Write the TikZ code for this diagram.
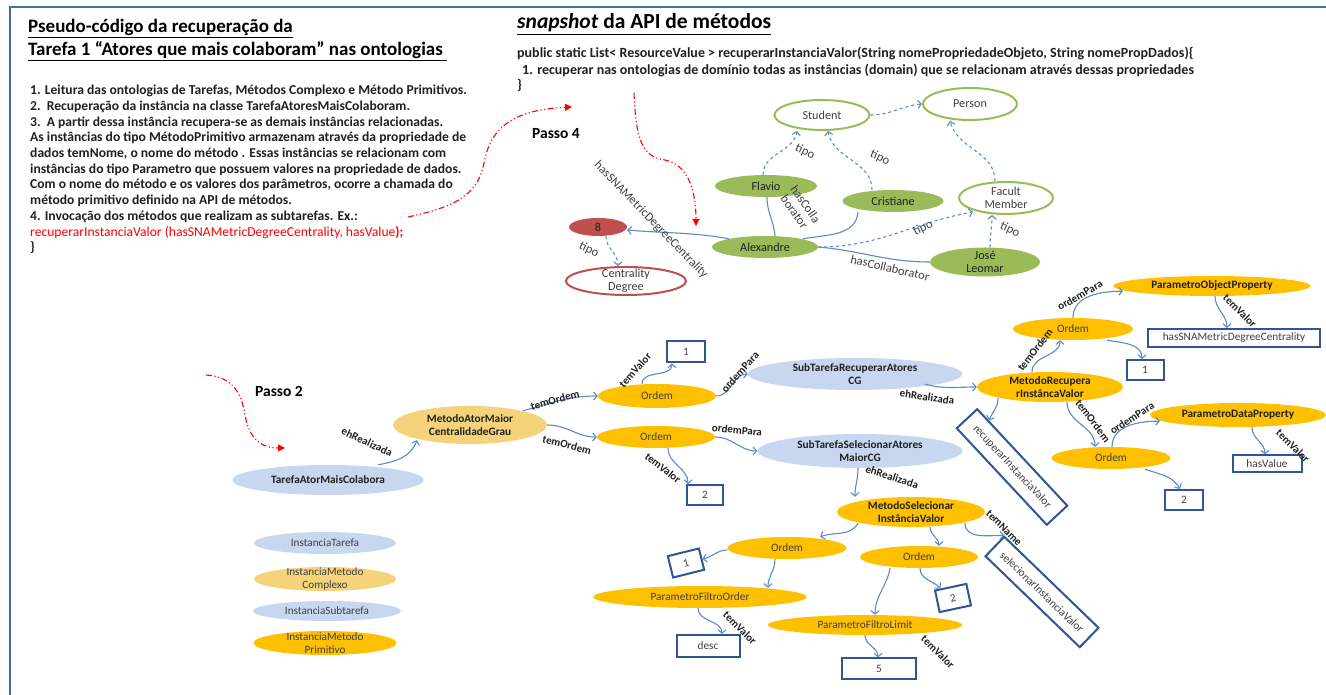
\documentclass[tikz,border=0pt]{standalone}
\usepackage{fontspec}
\setmainfont{Carlito}
\usetikzlibrary{shapes.geometric,arrows.meta,calc}
\definecolor{framblue}{HTML}{41719C}
\definecolor{edgeblue}{HTML}{5B8BC9}
\definecolor{boxblue}{HTML}{2F5597}
\definecolor{ongreen}{HTML}{9BBB59}
\definecolor{onred}{HTML}{C0504D}
\definecolor{tarefablue}{HTML}{C7D7EF}
\definecolor{complexocor}{HTML}{F4D37A}
\definecolor{primitivocor}{HTML}{FFC000}
\definecolor{txtgray}{HTML}{404040}
\definecolor{txtdark}{HTML}{202020}
\tikzset{
  wh/.style 2 args={minimum width=#1pt, minimum height=#2pt},
  elip/.style={ellipse, inner sep=0pt, align=center},
  tight/.style={inner ysep=-3pt},
  classe/.style={elip, draw=ongreen, line width=2pt, fill=white, text=txtgray, font=\fontsize{12.2}{13.5}\selectfont},
  classered/.style={classe, draw=onred},
  indiv/.style={elip, fill=ongreen, text=txtdark, font=\fontsize{12.2}{13.5}\selectfont},
  valorred/.style={indiv, fill=onred},
  tarefa/.style={elip, fill=tarefablue, text=txtdark, font=\bfseries\fontsize{11.3}{12.5}\selectfont},
  complexo/.style={tarefa, fill=complexocor},
  primitivo/.style={tarefa, fill=primitivocor},
  ordem/.style={primitivo, font=\fontsize{11.3}{12.5}\selectfont, text=txtgray},
  legenda/.style={font=\fontsize{11.2}{12.5}\selectfont, text=txtgray},
  valbox/.style={draw=boxblue, line width=2pt, inner sep=0pt, fill=white, text=txtgray, font=\fontsize{11.3}{12.5}\selectfont},
  rel/.style={edgeblue, line width=1.1pt, -{Straight Barb[length=3.5pt,width=8pt]}},
  isa/.style={rel, dashed},
  link/.style={edgeblue, line width=1.1pt},
  lbl/.style={font=\bfseries\fontsize{11}{12}\selectfont, inner sep=0pt, text=txtdark},
  rotulo/.style={font=\fontsize{12.5}{13.5}\selectfont, inner sep=0pt, text=txtgray, align=center},
  passo/.style={red, line width=1.1pt, dash pattern=on 6pt off 2.5pt on 1.2pt off 2.5pt on 1.2pt off 2.5pt, -{Triangle[length=7pt,width=7pt]}},
  passotxt/.style={font=\bfseries\fontsize{15.5}{17}\selectfont, inner sep=0pt}
}
\begin{document}
\begin{tikzpicture}[x=1pt,y=1pt]
    \useasboundingbox (0,0) rectangle (1326,695);
    \draw[framblue, line width=2pt] (10,688) rectangle (1345,-15);
    % textos
    \node[anchor=base west, inner sep=0pt, font=\bfseries\fontsize{19}{23}\selectfont] (titulo1) at (28,662) {\underline{Pseudo-código da recuperação da}};
    \node[anchor=base west, inner sep=0pt, font=\bfseries\fontsize{19}{23}\selectfont] (titulo2) at (28,639) {\underline{Tarefa 1 “Atores que mais colaboram” nas ontologias\ }};
    \node[anchor=north west, inner sep=0pt, align=left, font=\bfseries\fontsize{13.6}{15.7}\selectfont, text=txtdark] (pseudo) at (30,610)
      {1. Leitura das ontologias de Tarefas, Métodos Complexo e Método Primitivos.\\
       2.\ \ Recuperação da instância na classe TarefaAtoresMaisColaboram.\\
       3.\ \ A partir dessa instância recupera-se as demais instâncias relacionadas.\\
       As instâncias do tipo MétodoPrimitivo armazenam através da propriedade de\\
       dados temNome, o nome do método . Essas instâncias se relacionam com\\
       instâncias do tipo Parametro que possuem valores na propriedade de dados.\\
       Com o nome do método e os valores dos parâmetros, ocorre a chamada do\\
       método primitivo definido na API de métodos.\\
       4. Invocação dos métodos que realizam as subtarefas. Ex.:\\
       {\color{red}\mdseries recuperarInstanciaValor (hasSNAMetricDegreeCentrality, hasValue\bfseries);}\\
       \}};
    \node[anchor=base west, inner sep=0pt, font=\bfseries\fontsize{21.5}{24}\selectfont] (snapshot) at (517,666) {\underline{\textit{snapshot} da API de métodos}};
    \node[anchor=base west, inner sep=0pt, font=\bfseries\fontsize{14}{15}\selectfont, text=txtdark] (codigo1) at (517,637) {public static List< ResourceValue > recuperarInstanciaValor(String nomePropriedadeObjeto, String nomePropDados)\{};
    \node[anchor=base west, inner sep=0pt, font=\bfseries\fontsize{14}{15}\selectfont, text=txtdark] (codigo2) at (522,620) {1. recuperar nas ontologias de domínio todas as instâncias (domain) que se relacionam através dessas propriedades};
    \node[anchor=base west, inner sep=0pt, font=\bfseries\fontsize{14}{15}\selectfont, text=txtdark] (codigo3) at (517,605) {\}};
    \node[passotxt] (passo4) at (556,561) {Passo 4};
    \node[passotxt] (passo2) at (279,304) {Passo 2};
    % setas vermelhas
    \coordinate (p4ini) at (408,478);
    \coordinate (p4fim) at (572,588);
    \coordinate (p4bini) at (634,602);
    \coordinate (p4bfim) at (696,469);
    \coordinate (p2ini) at (206,320);
    \coordinate (p2fim) at (285,247);
    \draw[passo] (p4ini) .. controls (455,488) and (478,500) .. (484,532) .. controls (490,565) and (510,585) .. (p4fim);
    \draw[passo] (p4bini) .. controls (636,560) and (640,538) .. (665,535) .. controls (690,530) and (696,500) .. (p4bfim);
    \draw[passo] (p2ini) .. controls (235,318) and (242,300) .. (246,275) .. controls (252,252) and (265,247) .. (p2fim);
    % ontologia
    \node[classe, wh={95}{30}] (student) at (822,580) {Student};
    \node[classe, wh={94}{32}] (person) at (970,591) {Person};
    \node[classe, tight, wh={94}{32}] (faculty) at (1006,497) {Facult\\Member};
    \node[indiv, wh={101}{22}] (cristiane) at (893,494) {Cristiane};
    \node[indiv, tight, wh={110}{29}] (jose) at (985,433) {José\\Leomar};
    \node[indiv, wh={102}{22}] (flavio) at (766,509) {Flavio};
    \node[indiv, wh={106}{22}] (alexandre) at (765,448) {Alexandre};
    \node[valorred, wh={58}{18}] (oito) at (598,468) {8};
    \node[classered, tight, wh={120}{28}] (centrality) at (626,414) {Centrality\\Degree};
    \draw[isa] ([xshift=-3pt]flavio.north) to[out=90,in=-100] ([xshift=-25pt]student.south);
    \draw[isa] ([xshift=-21pt]cristiane.north) to[out=90,in=-80] ([xshift=6pt]student.south);
    \draw[isa] (student.east) to[out=0,in=185] (person.west);
    \draw[isa] ([xshift=-11pt]faculty.north) to[out=90,in=-75] ([xshift=-20pt]person.south);
    \draw[isa] (alexandre.east) to[out=0,in=190] ([xshift=-33pt,yshift=3pt]faculty.south);
    \draw[isa] ([xshift=5pt]jose.north) to[out=90,in=-90] ([xshift=-14pt]faculty.south);
    \draw[link] ([xshift=10pt]alexandre.north) to[out=95,in=-90] ([xshift=1pt]flavio.south);
    \draw[link] ([xshift=38pt,yshift=-3pt]alexandre.north) to[out=10,in=-95] ([xshift=-35pt]cristiane.south);
    \draw[link] (alexandre.east) to[out=-5,in=180] (jose.west);
    \draw[rel] ([xshift=-36pt,yshift=-3pt]alexandre.north) to[out=170,in=-5] ([yshift=-3pt]oito.east);
    \draw[isa] ([xshift=8pt]oito.south) to[out=-90,in=90] ([xshift=-8pt]centrality.north);
    \node[rotulo, rotate=-25] (tipo1) at (805,543) {tipo};
    \node[rotulo, rotate=-25] (tipo2) at (880,537) {tipo};
    \node[rotulo, rotate=25] (tipo3) at (923,467) {tipo};
    \node[rotulo, rotate=-25] (tipo4) at (1010,465) {tipo};
    \node[rotulo, rotate=-25] (tipo5) at (589,445) {tipo};
    \node[rotulo, rotate=-55] (colab1) at (800,487) {hasColla\\borator};
    \node[rotulo, rotate=-13] (colab2) at (890,427) {hasCollaborator};
    \node[rotulo, rotate=-46] (metrica) at (651,475) {hasSNAMetricDegreeCentrality};
    % instancias
    \node[tarefa, wh={191}{30}] (tarefa) at (328,215) {TarefaAtorMaisColabora};
    \node[complexo, tight, wh={154}{38}] (metAtor) at (470,270) {MetodoAtorMaior\\CentralidadeGrau};
    \node[ordem, wh={118}{24}] (ordA) at (657,299) {Ordem};
    \node[ordem, wh={118}{22}] (ordB) at (656,258) {Ordem};
    \node[valbox, wh={38}{21}] (valA) at (686,343) {1};
    \node[valbox, wh={36}{20}] (valB) at (705,200) {2};
    \node[tarefa, tight, wh={214}{32}] (subRec) at (855,321) {SubTarefaRecuperarAtores\\CG};
    \node[tarefa, tight, wh={205}{34}] (subSel) at (860,244) {SubTarefaSelecionarAtores\\MaiorCG};
    \node[primitivo, tight, wh={146}{30}] (metRec) at (1050,308) {MetodoRecupera\\rInstâncaValor};
    \node[ordem, wh={120}{22}] (ordC) at (1073,366) {Ordem};
    \node[primitivo, wh={197}{20}] (parObj) at (1212,409) {ParametroObjectProperty};
    \node[valbox, wh={172}{18}] (valObj) at (1234,357) {hasSNAMetricDegreeCentrality};
    \node[valbox, wh={37}{20}] (valC) at (1145,325) {1};
    \node[valbox, rotate=-47, wh={132}{28}] (nomeRec) at (1012,228) {recuperarInstanciaValor};
    \node[ordem, wh={119}{22}] (ordD) at (1111,237) {Ordem};
    \node[primitivo, wh={176}{24}] (parData) at (1238,280) {ParametroDataProperty};
    \node[valbox, wh={69}{17}] (valData) at (1267,231) {hasValue};
    \node[valbox, wh={38}{20}] (valD) at (1184,195) {2};
    \node[primitivo, tight, wh={148}{30}] (metSel) at (911,183) {MetodoSelecionar\\InstânciaValor};
    \node[ordem, wh={119}{22}] (ordE) at (787,147) {Ordem};
    \node[valbox, rotate=14, wh={32}{22}] (valE) at (686,132) {1};
    \node[ordem, wh={213}{22}] (parOrder) at (700,98) {ParametroFiltroOrder};
    \node[valbox, wh={63}{22}] (valOrder) at (708,49) {desc};
    \node[ordem, wh={118}{22}] (ordF) at (919,138) {Ordem};
    \node[valbox, rotate=12, wh={32}{22}] (valF) at (953,97) {2};
    \node[ordem, wh={194}{20}] (parLimit) at (865,70) {ParametroFiltroLimit};
    \node[valbox, wh={74}{21}] (valLimit) at (879,26) {5};
    \node[valbox, rotate=-44, wh={131}{27}] (nomeSel) at (1042,103) {selecionarInstanciaValor};
    % relacoes
    \draw[rel] ([xshift=50pt]tarefa.north) to[out=10,in=-110] ([xshift=-53pt,yshift=4pt]metAtor.south);
    \draw[rel] ([xshift=53pt,yshift=-5pt]metAtor.north) to[out=15,in=180] (ordA.west);
    \draw[rel] (metAtor.east) to[out=0,in=180] (ordB.west);
    \draw[rel] ([xshift=-15pt]ordA.north) to[out=90,in=-90] ([xshift=-14pt]valA.south);
    \draw[rel] (ordA.east) to[out=0,in=180] (subRec.west);
    \draw[rel] (ordB.east) to[out=0,in=180] (subSel.west);
    \draw[rel] ([xshift=12pt]ordB.south) to[out=-90,in=90] ([xshift=-17pt]valB.north);
    \draw[rel] ([xshift=70pt,yshift=6pt]subRec.south) to[out=-15,in=180] (metRec.west);
    \draw[rel] ([xshift=-18pt]metRec.north) to[out=90,in=-90] ([xshift=-13pt]ordC.south);
    \draw[rel] (ordC.north) to[out=90,in=180] ([xshift=-89pt,yshift=5pt]parObj.south);
    \draw[rel] ([xshift=3pt]parObj.south) to[out=-90,in=90] ([xshift=-7pt]valObj.north);
    \draw[rel] ([xshift=34pt]ordC.south) to[out=-10,in=90] ([xshift=-3pt]valC.north);
    \draw[rel] ([xshift=-52pt,yshift=4pt]metRec.south) to[out=-90,in=70] ($(nomeRec.north west)!0.13!(nomeRec.north east)$);
    \draw[rel] ([xshift=17pt]metRec.south) to[out=-90,in=90] ([xshift=-16pt]ordD.north);
    \draw[rel] ([xshift=1pt]ordD.north) to[out=90,in=180] ([xshift=-78pt,yshift=6pt]parData.south);
    \draw[rel] ([xshift=14pt]parData.south) to[out=-90,in=90] ([xshift=-2pt]valData.north);
    \draw[rel] ([xshift=34pt]ordD.south) to[out=-20,in=120] ([xshift=-4pt]valD.north);
    \draw[rel] ([xshift=-2pt]subSel.south) to[out=-90,in=90] ([xshift=-56pt]metSel.north);
    \draw[rel] ([xshift=-53pt,yshift=4pt]metSel.south) to[out=-120,in=20] ([xshift=33pt]ordE.north);
    \draw[rel] ([yshift=-2pt]ordE.west) to[out=180,in=10] (valE.east);
    \draw[rel] ([xshift=-12pt]ordE.south) to[out=-90,in=90] ([xshift=68pt,yshift=-2pt]parOrder.north);
    \draw[rel] ([xshift=-2pt]parOrder.south) to[out=-90,in=90] ([xshift=14pt]valOrder.north);
    \draw[rel] ([xshift=19pt]metSel.south) to[out=-90,in=90] ([xshift=20pt]ordF.north);
    \draw[rel] ([xshift=54pt,yshift=4pt]metSel.south) to[out=-90,in=180] (nomeSel.north west);
    \draw[rel] ([xshift=1pt]ordF.south) to[out=-90,in=135] ($(valF.north west)!0.2!(valF.north east)$);
    \draw[rel] ([xshift=-29pt]ordF.south) to[out=-100,in=90] ([xshift=10pt]parLimit.north);
    \draw[rel] (parLimit.south) to[out=-90,in=90] ([xshift=-1pt]valLimit.north);
    \node[lbl, rotate=-25] (rot1) at (367,253) {ehRealizada};
    \node[lbl, rotate=15] (rot2) at (555,295) {temOrdem};
    \node[lbl, rotate=-15] (rot3) at (567,250) {temOrdem};
    \node[lbl, rotate=48] (rot4) at (635,325) {temValor};
    \node[lbl, rotate=48] (rot5) at (740,323) {ordemPara};
    \node[lbl, rotate=-6] (rot6) at (737,265) {ordemPara};
    \node[lbl, rotate=-38] (rot7) at (663,227) {temValor};
    \node[lbl, rotate=-8] (rot8) at (927,298) {ehRealizada};
    \node[lbl, rotate=52] (rot9) at (1035,345) {temOrdem};
    \node[lbl, rotate=30] (rot10) at (1080,400) {ordemPara};
    \node[lbl, rotate=-45] (rot11) at (1240,384) {temValor};
    \node[lbl, rotate=-53] (rot12) at (1093,274) {temOrdem};
    \node[lbl, rotate=33] (rot13) at (1132,277) {ordemPara};
    \node[lbl, rotate=-45] (rot14) at (1293,249) {temValor};
    \node[lbl, rotate=-18] (rot15) at (892,218) {ehRealizada};
    \node[lbl, rotate=-45] (rot16) at (1004,167) {temName};
    \node[lbl, rotate=-45] (rot17) at (740,67) {temValor};
    \node[lbl, rotate=-45] (rot18) at (938,43) {temValor};
    % legenda
    \node[tarefa, legenda, wh={142}{22}] (legTarefa) at (325,152) {InstanciaTarefa};
    \node[complexo, legenda, tight, wh={142}{24}] (legComplexo) at (325,116) {InstanciaMetodo\\Complexo};
    \node[tarefa, legenda, wh={148}{20}] (legSub) at (327,84) {InstanciaSubtarefa};
    \node[primitivo, legenda, tight, wh={143}{24}] (legPrim) at (325,52) {InstanciaMetodo\\Primitivo};
\end{tikzpicture}
\end{document}
